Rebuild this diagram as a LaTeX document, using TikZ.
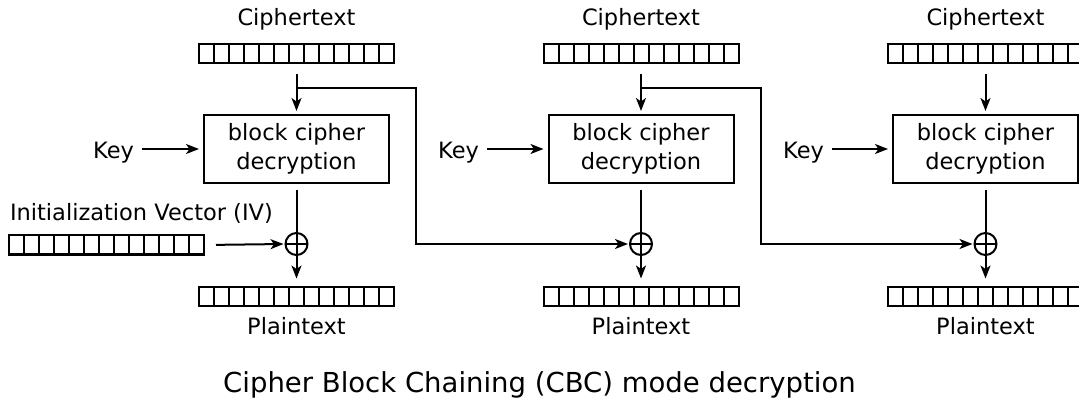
\documentclass[tikz,border=0pt]{standalone}
\usepackage{fontspec}
\setmainfont{DejaVu Sans}
\usetikzlibrary{arrows.meta}
\begin{document}
\begin{tikzpicture}[x=1pt,y=-1pt,
  line width=2pt,
  lbl/.style={font=\fontsize{22.5}{26}\selectfont, inner sep=0pt},
  cellbar/.style={draw, minimum width=195pt, minimum height=19pt, inner sep=0pt,
    path picture={\foreach \i in {1,...,12}
      \draw[line width=2pt] ([xshift=\i*15pt]path picture bounding box.south west) --
            ([xshift=\i*15pt]path picture bounding box.north west);}},
  cipherbox/.style={draw, minimum width=185pt, minimum height=68pt, inner sep=0pt,
    align=center, font=\fontsize{22.5}{28.5}\selectfont},
  xorop/.style={draw, circle, minimum size=22pt, inner sep=0pt,
    path picture={
      \draw (path picture bounding box.west) -- (path picture bounding box.east);
      \draw (path picture bounding box.north) -- (path picture bounding box.south);}},
  arr/.style={-{Stealth[length=13pt,width=10pt,inset=3.5pt]}}
]
\useasboundingbox (0,0) rectangle (1079,406);

% column 1
\node[lbl] (ct1) at (296.5,19.5) {Ciphertext};
\node[cellbar] (c1) at (296.5,53.5) {};
\node[cipherbox] (b1) at (296.5,149) {block cipher\\decryption};
\node[lbl, anchor=east] (k1) at (135,152.5) {Key};
\node[xorop] (x1) at (296.5,244) {};
\node[cellbar] (p1) at (296.5,296) {};
\node[lbl] (pt1) at (296.5,326) {Plaintext};
\node[lbl, anchor=west] (ivl) at (9,213) {Initialization Vector (IV)};
\node[cellbar] (iv) at (106.5,245) {};

% column 2
\node[lbl] (ct2) at (641,19.5) {Ciphertext};
\node[cellbar] (c2) at (641,53.5) {};
\node[cipherbox] (b2) at (641,149) {block cipher\\decryption};
\node[lbl, anchor=east] (k2) at (480,152.5) {Key};
\node[xorop] (x2) at (641,244) {};
\node[cellbar] (p2) at (641,296) {};
\node[lbl] (pt2) at (641,326) {Plaintext};

% column 3
\node[lbl] (ct3) at (985.5,19.5) {Ciphertext};
\node[cellbar] (c3) at (985.5,53.5) {};
\node[cipherbox] (b3) at (985.5,149) {block cipher\\decryption};
\node[lbl, anchor=east] (k3) at (825,152.5) {Key};
\node[xorop] (x3) at (985.5,244) {};
\node[cellbar] (p3) at (985.5,296) {};
\node[lbl] (pt3) at (985.5,326) {Plaintext};

% title
\node[font=\fontsize{27.5}{32}\selectfont, inner sep=0pt] (title) at (539.5,385)
  {Cipher Block Chaining (CBC) mode decryption};

% connectors
\foreach \i in {1,2,3}{
  \draw[arr, shorten <=10pt, shorten >=3pt] (c\i.south) -- (b\i.north);
  \draw[arr, shorten <=6pt, shorten >=7pt] (b\i.south) -- (p\i.north);
  \draw[arr, shorten <=7pt, shorten >=4pt] (k\i.east |- b\i.west) -- (b\i.west);
}
\draw[arr, shorten <=11pt, shorten >=1pt] (iv.east) -- (x1.west);

\coordinate (f1) at (296.5,88);
\coordinate (t1) at (416,88);
\coordinate (f2) at (641,88);
\coordinate (t2) at (761,88);
\draw[arr, shorten >=1pt] (f1) -- (t1) |- (x2.west);
\draw[arr, shorten >=1pt] (f2) -- (t2) |- (x3.west);
\end{tikzpicture}
\end{document}
